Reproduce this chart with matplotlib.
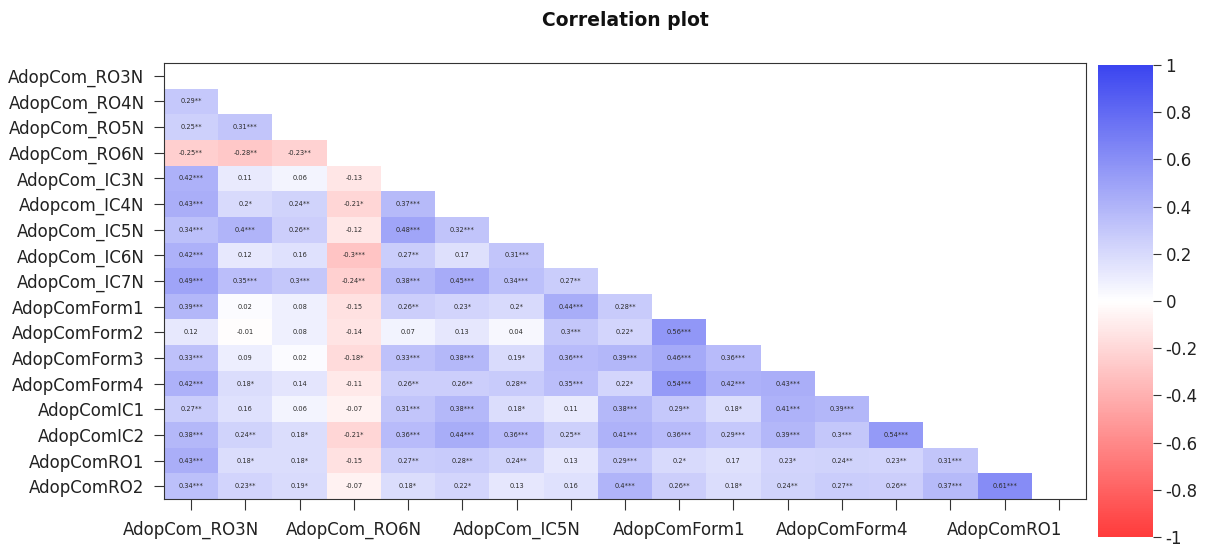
import numpy as np
import matplotlib
matplotlib.use("Agg")
import matplotlib.pyplot as plt
from matplotlib.colors import LinearSegmentedColormap

plt.rcParams['font.family'] = ['DejaVu Sans']

# 变量名称
variables = ['AdopCom_RO3N', 'AdopCom_RO4N', 'AdopCom_RO5N', 'AdopCom_RO6N',
             'AdopCom_IC3N', 'Adopcom_IC4N', 'AdopCom_IC5N', 'AdopCom_IC6N',
             'AdopCom_IC7N', 'AdopComForm1', 'AdopComForm2', 'AdopComForm3',
             'AdopComForm4', 'AdopComIC1', 'AdopComIC2', 'AdopComRO1', 'AdopComRO2']
x_labels = ['AdopCom_RO3N', 'AdopCom_RO6N', 'AdopCom_IC5N',
            'AdopComForm1', 'AdopComForm4', 'AdopComRO1']
x_label_cols = [0, 3, 6, 9, 12, 15]

# 下三角相关系数（按行）
corr_rows = [
    [],
    [0.29],
    [0.25, 0.31],
    [-0.25, -0.28, -0.23],
    [0.42, 0.11, 0.06, -0.13],
    [0.43, 0.2, 0.24, -0.21, 0.37],
    [0.34, 0.4, 0.26, -0.12, 0.48, 0.32],
    [0.42, 0.12, 0.16, -0.3, 0.27, 0.17, 0.31],
    [0.49, 0.35, 0.3, -0.24, 0.38, 0.45, 0.34, 0.27],
    [0.39, 0.02, 0.08, -0.15, 0.26, 0.23, 0.2, 0.44, 0.28],
    [0.12, -0.01, 0.08, -0.14, 0.07, 0.13, 0.04, 0.3, 0.22, 0.56],
    [0.33, 0.09, 0.02, -0.18, 0.33, 0.38, 0.19, 0.36, 0.39, 0.46, 0.36],
    [0.42, 0.18, 0.14, -0.11, 0.26, 0.26, 0.28, 0.35, 0.22, 0.54, 0.42, 0.43],
    [0.27, 0.16, 0.06, -0.07, 0.31, 0.38, 0.18, 0.11, 0.38, 0.29, 0.18, 0.41, 0.39],
    [0.38, 0.24, 0.18, -0.21, 0.36, 0.44, 0.36, 0.25, 0.41, 0.36, 0.29, 0.39, 0.3, 0.54],
    [0.43, 0.18, 0.18, -0.15, 0.27, 0.28, 0.24, 0.13, 0.29, 0.2, 0.17, 0.23, 0.24, 0.23, 0.31],
    [0.34, 0.23, 0.19, -0.07, 0.18, 0.22, 0.13, 0.16, 0.4, 0.26, 0.18, 0.24, 0.27, 0.26, 0.37, 0.61],
]

# 显著性星号数量
star_rows = [
    [],
    [2],
    [2, 3],
    [2, 2, 2],
    [3, 0, 0, 0],
    [3, 1, 2, 1, 3],
    [3, 3, 2, 0, 3, 3],
    [3, 0, 0, 3, 2, 0, 3],
    [3, 3, 3, 2, 3, 3, 3, 2],
    [3, 0, 0, 0, 2, 1, 1, 3, 2],
    [0, 0, 0, 0, 0, 0, 0, 3, 1, 3],
    [3, 0, 0, 1, 3, 3, 1, 3, 3, 3, 3],
    [3, 1, 0, 0, 2, 2, 2, 3, 1, 3, 3, 3],
    [2, 0, 0, 0, 3, 3, 1, 0, 3, 2, 1, 3, 3],
    [3, 2, 1, 1, 3, 3, 3, 2, 3, 3, 3, 3, 3, 3],
    [3, 1, 1, 0, 2, 2, 2, 0, 3, 1, 0, 1, 2, 2, 3],
    [3, 2, 1, 0, 1, 1, 0, 0, 3, 2, 1, 2, 2, 2, 3, 3],
]

n = len(variables)
mat = np.full((n, n), np.nan)
for i, row in enumerate(corr_rows):
    for j, v in enumerate(row):
        mat[i, j] = v

cmap = LinearSegmentedColormap.from_list('rwb', ['#FF3B3B', '#FFFFFF', '#3B45F0'])

W, H = 1213, 549
fig = plt.figure(figsize=(W / 100, H / 100), dpi=100)
ax = fig.add_axes([164 / W, 1 - 499 / H, 922 / W, 436 / H])

masked = np.ma.masked_invalid(mat)
im = ax.pcolormesh(np.arange(n + 1) - 0.5, np.arange(n + 1) - 0.5, masked,
                   cmap=cmap, vmin=-1, vmax=1, shading='flat')
ax.set_xlim(-0.5, n - 0.5)
ax.set_ylim(n - 0.5, -0.5)

# 单元格文本
for i, row in enumerate(corr_rows):
    for j, v in enumerate(row):
        txt = f'{v:g}' + '*' * star_rows[i][j]
        ax.text(j, i, txt, ha='center', va='center', fontsize=4.8, color='#2a2a2a')

ax.set_yticks(np.arange(n))
ax.set_yticklabels(variables, fontsize=12, color='#222222')
ax.set_xticks(np.arange(n))
xt = [''] * n
for c, lab in zip(x_label_cols, x_labels):
    xt[c] = lab
ax.set_xticklabels(xt, fontsize=12, color='#222222')
ax.tick_params(axis='y', length=7, width=0.8, color='#333333', pad=7)
ax.tick_params(axis='x', length=8, width=0.8, color='#333333', pad=8)
for s in ax.spines.values():
    s.set_linewidth(0.8)
    s.set_color('#333333')

fig.suptitle('Correlation plot', x=625 / W, y=1 - 20 / H, fontsize=13.5,
             fontweight='bold', va='center', color='#111111')

# 色条
cax = fig.add_axes([1098 / W, 1 - 537 / H, 55 / W, 472 / H])
cb = fig.colorbar(im, cax=cax, ticks=np.linspace(-1, 1, 11))
cb.ax.set_yticklabels(['-1', '-0.8', '-0.6', '-0.4', '-0.2', '0', '0.2', '0.4', '0.6', '0.8', '1'])
cb.ax.tick_params(labelsize=12, length=6, width=0.8, color='#333333',
                  labelcolor='#222222', pad=3)
cb.outline.set_visible(False)

fig.savefig('out.png', dpi=100)
